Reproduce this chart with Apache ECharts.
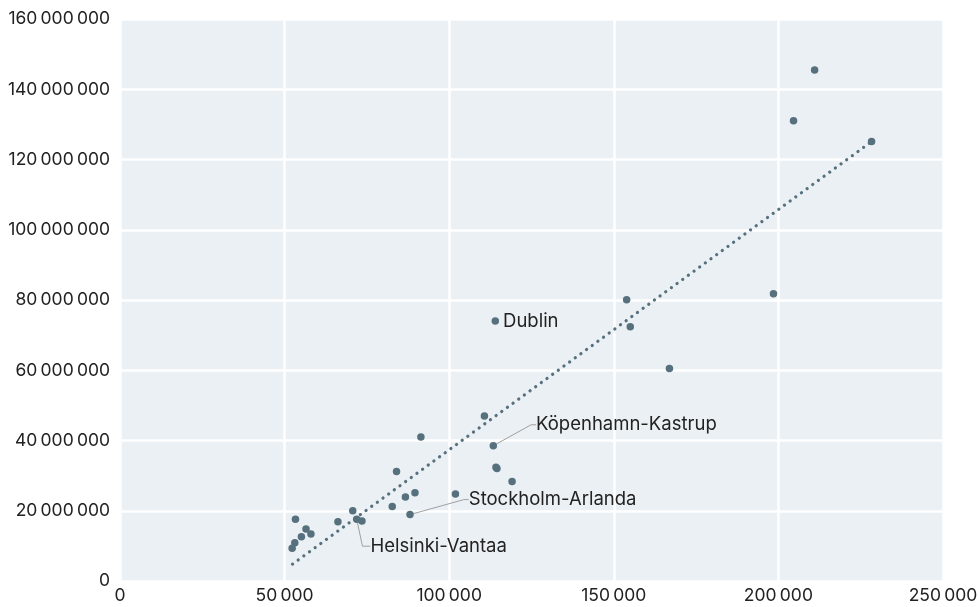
<!DOCTYPE html>
<html>
<head>
<meta charset="utf-8">
<script src="https://cdn.jsdelivr.net/npm/echarts@6/dist/echarts.min.js"></script>
<style>
  html, body { margin: 0; padding: 0; background: #fff; }
  #chart { width: 978px; height: 607px; }
</style>
</head>
<body>
<div id="chart"></div>
<script>
// flights (x) and passengers (y) per airport
const flights = [52300, 53100, 53300, 55100, 56500, 58000, 66200, 70700, 71900, 73500,
  82700, 84000, 86700, 88100, 89600, 91400, 101900, 110700, 113400, 114000,
  114200, 114500, 119100, 153900, 155000, 166900, 198500, 204600, 211000, 228300];
const passengers = [9300000, 10900000, 17600000, 12600000, 14800000, 13400000, 16900000, 20000000, 17600000, 17100000,
  21200000, 31200000, 23900000, 18900000, 25100000, 41000000, 24800000, 47000000, 38500000, 74000000,
  32400000, 32000000, 28300000, 80100000, 72400000, 60500000, 81800000, 131000000, 145500000, 125100000];
const airportNames = ['', '', '', '', '', '', '', '', 'Helsinki-Vantaa', '',
  '', '', '', 'Stockholm-Arlanda', '', '', '', '', 'Köpenhamn-Kastrup', 'Dublin',
  '', '', '', '', '', '', '', '', '', ''];
// trend line end points
const trendX = [52400, 228300];
const trendY = [4800000, 125100000];

const xTicks = { min: 0, max: 250000, interval: 50000 };
const yTicks = { min: 0, max: 160000000, interval: 20000000 };

// label placement (pixels relative to default "right" position)
const labelMoves = {
  'Helsinki-Vantaa': { dx: 2, dy: 27, len: 8 },
  'Stockholm-Arlanda': { dx: 47, dy: -15, len: 5 },
  'Köpenhamn-Kastrup': { dx: 31, dy: -21, len: 5 },
};

const pointColor = '#56707e';
const fmt = (v) => String(v).replace(/\B(?=(\d{3})+(?!\d))/g, '\u2009');

let myChart = echarts.init(document.getElementById('chart'));

let scatterData = flights.map((x, i) => {
  const name = airportNames[i];
  const item = { value: [x, passengers[i]], name: name };
  if (name) {
    const mv = labelMoves[name];
    item.label = mv ? { show: true } : { show: true, padding: 0 };
    item.labelLine = { show: !!mv, length2: mv ? mv.len : 0 };
  }
  return item;
});

let option = {
  animation: false,
  grid: {
    left: 120,
    right: 35,
    top: 19,
    bottom: 26,
    show: true,
    backgroundColor: '#ebf0f4',
    borderWidth: 0,
    outerBoundsMode: 'none',
  },
  xAxis: {
    type: 'value',
    min: xTicks.min,
    max: xTicks.max,
    interval: xTicks.interval,
    axisLine: { show: false },
    axisTick: { show: false },
    splitLine: { show: true, lineStyle: { color: '#ffffff', width: 2.5 } },
    axisLabel: {
      color: '#222',
      fontFamily: 'Inter',
      fontSize: 17.5,
      margin: 6,
      formatter: fmt,
    },
  },
  yAxis: {
    type: 'value',
    min: yTicks.min,
    max: yTicks.max,
    interval: yTicks.interval,
    axisLine: { show: false },
    axisTick: { show: false },
    splitLine: { show: true, lineStyle: { color: '#ffffff', width: 2.5 } },
    axisLabel: {
      color: '#222',
      fontFamily: 'Inter',
      fontSize: 17.5,
      margin: 10,
      formatter: fmt,
    },
  },
  series: [
    {
      type: 'line',
      data: trendX.map((x, i) => [x, trendY[i]]),
      symbol: 'none',
      silent: true,
      lineStyle: {
        color: pointColor,
        width: 3.2,
        type: [0.1, 6.9],
        cap: 'round',
      },
      z: 1,
    },
    {
      type: 'scatter',
      data: scatterData,
      symbolSize: 7.5,
      itemStyle: { color: pointColor, opacity: 1 },
      label: {
        show: false,
        position: 'right',
        distance: 4,
        formatter: '{b}',
        color: '#222',
        fontFamily: 'Inter',
        fontSize: 18.5,
        padding: [0, 0, 0, 4],
      },
      labelLine: {
        show: false,
        lineStyle: { color: '#a0a0a0', width: 1 },
      },
      labelLayout: (params) => {
        const name = airportNames[params.dataIndex];
        const mv = labelMoves[name];
        if (!mv) return {};
        return { dx: mv.dx, dy: mv.dy };
      },
      z: 3,
    },
  ],
};
myChart.setOption(option);
</script>
</body>
</html>
